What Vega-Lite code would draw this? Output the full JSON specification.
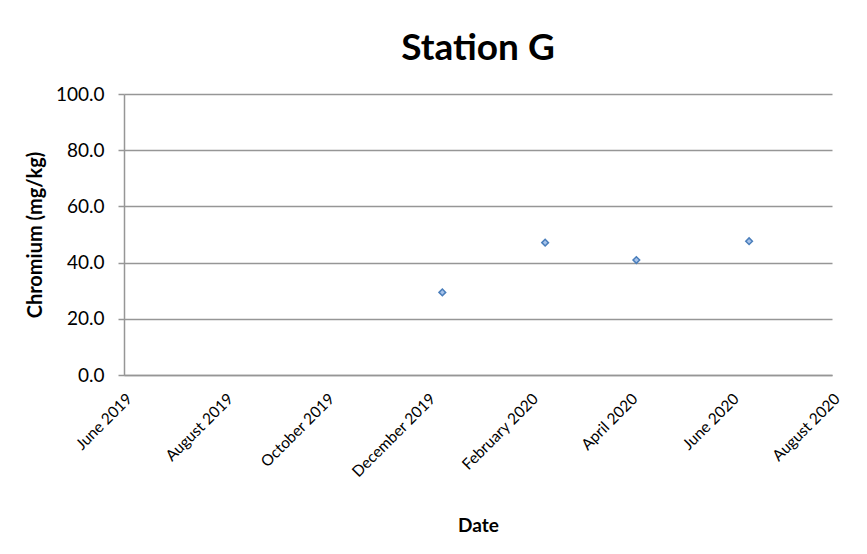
{
  "$schema": "https://vega.github.io/schema/vega-lite/v6.json",
  "autosize": "none",
  "width": 708,
  "height": 281,
  "padding": {"left": 124, "top": 94, "right": 35, "bottom": 179},
  "background": "white",
  "title": {"text": "Station G", "font": "Lato", "fontSize": 37, "fontWeight": "bold", "color": "#000000", "offset": 17, "anchor": "middle"},
  "data": {"values": [
    {"date": "2019-12-10", "value": 29.4},
    {"date": "2020-02-10", "value": 47.1},
    {"date": "2020-04-05", "value": 40.9},
    {"date": "2020-06-12", "value": 47.6}
  ]},
  "mark": {"type": "point", "shape": "diamond", "filled": true, "size": 44, "fill": "#a5c2ea", "stroke": "#4a7ebb", "strokeWidth": 1.5, "opacity": 1},
  "encoding": {
    "x": {
      "field": "date", "type": "temporal", "title": "Date",
      "scale": {"domain": [{"year": 2019, "month": 6, "date": 1}, {"year": 2020, "month": 8, "date": 1}]},
      "axis": {
        "values": [
          {"year": 2019, "month": 6, "date": 1}, {"year": 2019, "month": 8, "date": 1},
          {"year": 2019, "month": 10, "date": 1}, {"year": 2019, "month": 12, "date": 1},
          {"year": 2020, "month": 2, "date": 1}, {"year": 2020, "month": 4, "date": 1},
          {"year": 2020, "month": 6, "date": 1}, {"year": 2020, "month": 8, "date": 1}
        ],
        "format": "%B %Y", "labelAngle": -45, "labelAlign": "right", "labelBaseline": "top",
        "labelFont": "Lato", "labelFontSize": 15.5, "labelColor": "#000000", "labelPadding": 16, "labelOffset": 0,
        "ticks": false, "grid": false, "domainColor": "#969696", "domainWidth": 1.5,
        "titleFont": "Lato", "titleFontSize": 19, "titleFontWeight": "bold", "titleColor": "#000000", "titlePadding": 36,
        "labelOverlap": false, "labelFlush": false
      }
    },
    "y": {
      "field": "value", "type": "quantitative", "title": "Chromium (mg/kg)",
      "scale": {"domain": [0, 100]},
      "axis": {
        "values": [0, 20, 40, 60, 80, 100], "format": ".1f",
        "labelFont": "Lato", "labelFontSize": 19, "labelColor": "#000000", "labelPadding": 14,
        "tickSize": 6, "tickColor": "#969696", "tickWidth": 1.5,
        "domainColor": "#969696", "domainWidth": 1.5,
        "grid": true, "gridColor": "#969696", "gridWidth": 1.5,
        "titleFont": "Lato", "titleFontSize": 20, "titleFontWeight": "bold", "titleColor": "#000000", "titlePadding": 10
      }
    }
  },
  "config": {"view": {"stroke": null}}
}
